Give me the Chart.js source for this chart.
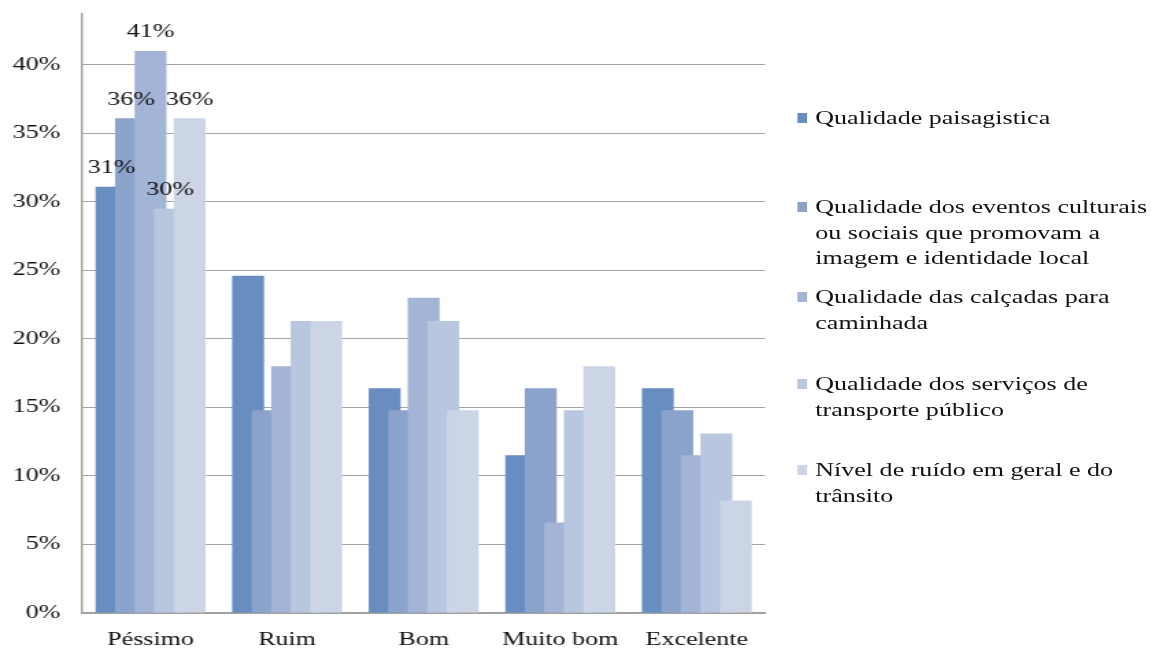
<!DOCTYPE html>
<html>
<head>
<meta charset="utf-8">
<script src="https://cdn.jsdelivr.net/npm/chart.js@4/dist/chart.umd.min.js"></script>
<style>
  body { margin: 0; background: #fff; overflow: hidden; }
  /* the reference looks horizontally stretched, so draw narrow and scale the whole thing */
  #wrap { position: relative; width: 840px; height: 651px; transform: scaleX(1.3702); transform-origin: 0 0; }
  #legend { position: absolute; left: 582px; top: 0; font-family: 'Liberation Serif', serif; font-size: 19px; color: #111; }
  .item { position: absolute; left: 0; width: 260px; line-height: 25.5px; padding-left: 13px; white-space: nowrap; }
  .box { position: absolute; left: 0; top: 8px; width: 7.3px; height: 10px; }
</style>
</head>
<body>
<div id="wrap">
  <canvas id="chart" width="840" height="651"></canvas>
  <div id="legend"></div>
</div>
<script>
const categories = ['Péssimo', 'Ruim', 'Bom', 'Muito bom', 'Excelente'];
const seriesNames = [
    'Qualidade paisagistica',
    'Qualidade dos eventos culturais\nou sociais que promovam a\nimagem e identidade local',
    'Qualidade das calçadas para\ncaminhada',
    'Qualidade dos serviços de\ntransporte público',
    'Nível de ruído em geral e do\ntrânsito'
];
const paisagistica = [31.1, 24.6, 16.4, 11.5, 16.4];
const eventos = [36.1, 14.8, 14.8, 16.4, 14.8];
const calcadas = [41.0, 18.0, 23.0, 6.6, 11.5];
const transporte = [29.5, 21.3, 21.3, 14.8, 13.1];
const ruido = [36.1, 21.3, 14.8, 18.0, 8.2];
const yTicks = [0, 5, 10, 15, 20, 25, 30, 35, 40];

const seriesValues = [paisagistica, eventos, calcadas, transporte, ruido];
const colors = ['#678dc1', '#8ba3cb', '#a3b5d6', '#b9c6df', '#cbd5e6'];
const legendTops = [105, 194, 284, 371, 457];

// Excel-style overlapping bars: every bar is wider and the next one covers part of it
const overlapBars = {
    id: 'overlapBars',
    afterDatasetsUpdate(chart) {
        const xs = chart.scales.x;
        const n = chart.data.datasets.length;
        const catW = xs.width / categories.length;
        const groupW = catW * 0.805;
        const fullW = groupW * 0.29;
        const step = (groupW - fullW) / (n - 1);
        chart.data.datasets.forEach((ds, i) => {
            chart.getDatasetMeta(i).data.forEach((el, j) => {
                const c = xs.getPixelForValue(j);
                el.x = c - groupW / 2 + i * step + fullW / 2;
                el.width = fullW;
            });
        });
    },
    afterDatasetsDraw(chart) {
        const ctx = chart.ctx;
        ctx.save();
        ctx.font = '19px "Liberation Serif"';
        ctx.fillStyle = '#111';
        ctx.textAlign = 'center';
        ctx.textBaseline = 'bottom';
        chart.data.datasets.forEach((ds, i) => {
            const el = chart.getDatasetMeta(i).data[0];
            ctx.fillText(Math.round(ds.data[0]) + '%', el.x, el.y - 9);
        });
        ctx.restore();
    }
};

Chart.defaults.font.family = '"Liberation Serif", serif';
Chart.defaults.color = '#111';

new Chart(document.getElementById('chart'), {
    type: 'bar',
    data: {
        labels: categories,
        datasets: seriesValues.map((vals, i) => ({
            label: seriesNames[i],
            data: vals,
            backgroundColor: colors[i],
            borderWidth: 0,
            order: seriesValues.length - i
        }))
    },
    options: {
        responsive: false,
        animation: false,
        layout: { padding: { top: 14, right: 281.6, left: 0, bottom: 0 } },
        plugins: {
            legend: { display: false },
            tooltip: { enabled: false }
        },
        scales: {
            x: {
                grid: { display: false, drawTicks: false },
                border: { color: '#a0a0a0', width: 1.5 },
                ticks: { font: { size: 19 }, padding: 16 },
                afterFit(s) { s.height = 38; s.paddingLeft = 0; s.paddingRight = 0; }
            },
            y: {
                min: 0,
                max: 43.7,
                afterBuildTicks(s) { s.ticks = yTicks.map(v => ({ value: v })); },
                grid: { color: '#a4a4a4', lineWidth: 1, drawTicks: false },
                border: { color: '#a0a0a0', width: 1.5 },
                ticks: { font: { size: 19 }, padding: 16, callback: v => v + '%' },
                afterFit(s) { s.width = 60; s.paddingTop = 0; s.paddingBottom = 0; }
            }
        }
    },
    plugins: [overlapBars]
});

const legend = document.getElementById('legend');
seriesNames.forEach((name, i) => {
    const item = document.createElement('div');
    item.className = 'item';
    item.style.top = legendTops[i] + 'px';
    const box = document.createElement('span');
    box.className = 'box';
    box.style.background = colors[i];
    item.appendChild(box);
    name.split('\n').forEach(line => {
        const d = document.createElement('div');
        d.textContent = line;
        item.appendChild(d);
    });
    legend.appendChild(item);
});
</script>
</body>
</html>
